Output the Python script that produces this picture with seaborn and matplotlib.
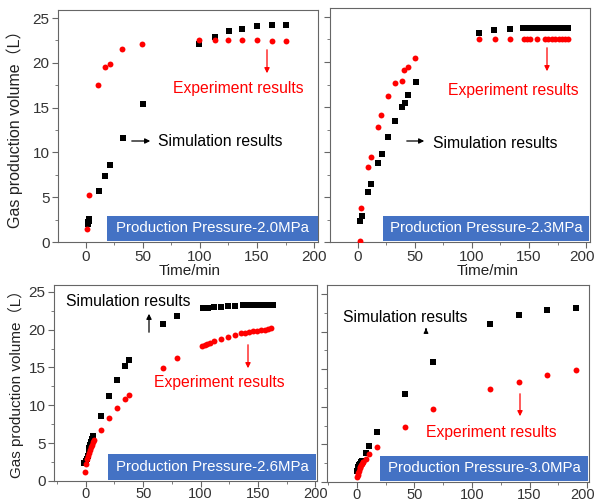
import numpy as np
import pandas as pd
import matplotlib
matplotlib.use("Agg")
import matplotlib.pyplot as plt
from matplotlib.patches import Rectangle, FancyArrowPatch
from matplotlib.ticker import MultipleLocator
from matplotlib.transforms import ScaledTranslation
import seaborn as sns

# ---------------- data ----------------
p1_sim_t = [1.5, 2.0, 2.5, 3.0, 11.3, 16.9, 20.9, 32.6, 50.0, 99.4, 113.4, 125.6, 137.2, 150.3, 162.8, 175.6]
p1_sim_v = [2.0, 2.2, 2.4, 2.6, 5.7, 7.4, 8.6, 11.6, 15.4, 22.05, 22.9, 23.5, 23.8, 24.1, 24.2, 24.25]
p1_exp_t = [1.2, 2.3, 11.0, 16.9, 20.9, 31.7, 49.4, 99.4, 112.8, 125.0, 137.2, 150.3, 162.8, 175.6]
p1_exp_v = [1.4, 5.3, 17.5, 19.5, 19.9, 21.5, 22.05, 22.6, 22.5, 22.6, 22.57, 22.5, 22.46, 22.4]

p2_sim_t = [1.5, 3.2, 9.1, 11.4, 17.6, 20.8, 26.7, 32.8, 39.0, 41.0, 44.3, 50.7,
            106.0, 119.6, 133.0, 145.0, 149.0, 153.0, 157.0,
            162.0, 164.5, 167.0, 169.5, 172.0, 174.5, 177.0, 179.5, 182.0, 184.0]
p2_sim_v = [2.35, 2.9, 5.6, 6.5, 8.8, 9.8, 11.7, 13.5, 15.05, 15.5, 16.3, 17.8,
            23.2, 23.6, 23.7, 23.8, 23.8, 23.8, 23.8,
            23.8, 23.8, 23.8, 23.8, 23.8, 23.8, 23.8, 23.8, 23.8, 23.8]
p2_exp_t = [1.5, 2.6, 8.8, 11.1, 17.3, 20.5, 26.7, 32.8, 38.7, 40.5, 44.0, 50.4,
            106.0, 120.0, 133.0, 145.6, 148.0, 150.5, 157.0,
            164.0, 167.0, 170.0, 173.0, 176.0, 179.0, 182.0, 184.0]
p2_exp_v = [0.1, 3.8, 8.3, 9.4, 12.8, 14.1, 16.2, 17.7, 17.9, 19.1, 19.5, 20.4,
            22.6, 22.6, 22.6, 22.6, 22.6, 22.6, 22.6,
            22.6, 22.6, 22.6, 22.6, 22.6, 22.6, 22.6, 22.6]

p3_sim_t = [-1.4, 0.0, 0.8, 1.6, 2.4, 3.2, 4.0, 4.8, 5.6, 6.4, 13.6, 20.3, 27.2, 34.5, 37.7,
            67.2, 79.4, 102.0, 106.4, 112.0, 117.4, 124.0, 130.0, 137.0, 142.0, 147.0,
            152.0, 157.0, 161.0, 163.0]
p3_sim_v = [2.4, 2.6, 2.9, 3.3, 3.8, 4.3, 4.8, 5.2, 5.6, 6.0, 8.6, 11.2, 13.4, 15.2, 15.96,
            20.8, 21.8, 22.8, 22.9, 23.0, 23.05, 23.1, 23.15, 23.2, 23.2, 23.2,
            23.2, 23.2, 23.2, 23.2]
p3_exp_t = [-0.9, 0.5, 1.2, 2.0, 2.8, 3.6, 4.4, 5.2, 6.0, 6.8, 13.0, 20.0, 27.2, 34.5, 37.7,
            67.2, 79.4, 101.4, 103.5, 105.5, 108.0, 111.6, 118.0, 123.8, 130.4,
            135.0, 138.5, 142.0, 145.5, 149.0, 152.5, 156.0, 159.0, 161.5]
p3_exp_v = [1.2, 2.3, 2.9, 3.3, 3.7, 4.1, 4.5, 4.8, 5.1, 5.4, 6.7, 8.3, 9.65, 10.9, 11.4,
            14.95, 16.3, 17.8, 17.95, 18.1, 18.3, 18.5, 18.7, 19.0, 19.3,
            19.5, 19.6, 19.7, 19.8, 19.85, 19.9, 20.0, 20.1, 20.2]

p4_sim_t = [0.0, 0.6, 1.2, 1.8, 2.5, 3.2, 4.0, 7.8, 10.7, 17.5, 42.2, 66.5, 115.9, 141.0, 165.0, 190.8]
p4_sim_v = [1.4, 1.7, 2.0, 2.2, 2.4, 2.6, 2.8, 3.9, 4.8, 6.6, 11.7, 16.0, 21.0, 22.2, 22.9, 23.2]
p4_exp_t = [0.3, 0.8, 1.3, 1.8, 2.4, 3.0, 3.6, 4.3, 5.0, 5.6, 7.5, 10.5, 17.3, 41.9, 66.2, 115.9, 140.8, 165.3, 190.2]
p4_exp_v = [0.6, 0.9, 1.2, 1.5, 1.8, 2.0, 2.2, 2.4, 2.6, 2.7, 3.0, 3.7, 4.7, 7.3, 9.65, 12.4, 13.35, 14.2, 14.9]

pressures = ["Production Pressure-2.0MPa", "Production Pressure-2.3MPa",
             "Production Pressure-2.6MPa", "Production Pressure-3.0MPa"]
x_label = "Time/min"
y_label = "Gas production volume（L）"
sim_label = "Simulation results"
exp_label = "Experiment results"

# ---------------- style ----------------
sns.set_theme(style="ticks")
plt.rcParams["font.family"] = ["Liberation Sans", "Noto Sans CJK SC", "DejaVu Sans"]
plt.rcParams["axes.edgecolor"] = "#666666"
plt.rcParams["axes.linewidth"] = 0.8
plt.rcParams["xtick.color"] = "#666666"
plt.rcParams["ytick.color"] = "#666666"
plt.rcParams["xtick.labelcolor"] = "#333333"
plt.rcParams["ytick.labelcolor"] = "#333333"

TICK_FONT = ["Liberation Sans Narrow", "Liberation Sans", "DejaVu Sans"]

W, H = 594, 504
fig = plt.figure(figsize=(W / 100, H / 100), dpi=100)


def fx(x):
    return x / W


def fy(y):
    return 1 - y / H


def add_ax(l, t, r, b):
    return fig.add_axes([fx(l), fy(b), (r - l) / W, (b - t) / H])


axes_px = [(58, 10, 318, 242), (330, 8, 590, 242), (54, 285, 317, 481), (327, 285, 589, 482)]
xlims = [(-24.5, 203.5), (-24.5, 203.5), (-27.7, 201.4), (-26.0, 201.7)]
ylims = [(0, 25.9), (0, 26.0), (0, 25.9), (0, 26.2)]
series = [(p1_sim_t, p1_sim_v, p1_exp_t, p1_exp_v),
          (p2_sim_t, p2_sim_v, p2_exp_t, p2_exp_v),
          (p3_sim_t, p3_sim_v, p3_exp_t, p3_exp_v),
          (p4_sim_t, p4_sim_v, p4_exp_t, p4_exp_v)]
boxes = [(107, 216, 318, 241), (383, 216, 589, 241), (108, 454, 316, 480), (380, 456, 588, 481)]

axs = []
for i, (pos, xl, yl, (st, sv, et, ev)) in enumerate(zip(axes_px, xlims, ylims, series)):
    ax = add_ax(*pos)
    axs.append(ax)
    sim = pd.DataFrame({"t": st, "v": sv})
    exp = pd.DataFrame({"t": et, "v": ev})
    sns.scatterplot(data=sim, x="t", y="v", ax=ax, marker="s", color="black",
                    s=16, linewidth=0, zorder=3)
    sns.scatterplot(data=exp, x="t", y="v", ax=ax, marker="o", color="#ff0000",
                    s=18, linewidth=0, zorder=3)
    ax.set_xlim(*xl)
    ax.set_ylim(*yl)
    ax.set_xlabel("")
    ax.set_ylabel("")
    ax.xaxis.set_major_locator(MultipleLocator(50))
    ax.xaxis.set_minor_locator(MultipleLocator(25))
    ax.yaxis.set_major_locator(MultipleLocator(5))
    ax.yaxis.set_minor_locator(MultipleLocator(2.5))
    ax.tick_params(axis="both", which="major", direction="out", length=4, width=0.8,
                   labelsize=11, pad=2)
    ax.tick_params(axis="both", which="minor", direction="out", length=2.5, width=0.6)
    ax.tick_params(top=False, right=False, which="both")
    if i >= 2:
        ax.tick_params(axis="x", which="major", pad=0, labelsize=10.5)
    if i in (1, 3):
        ax.tick_params(axis="y", labelleft=False)
    for lab in ax.get_xticklabels() + ax.get_yticklabels():
        lab.set_fontfamily(TICK_FONT)
    for sp in ax.spines.values():
        sp.set_visible(True)
    # blue pressure box
    l, t, r, b = boxes[i]
    fig.add_artist(Rectangle((fx(l), fy(b)), (r - l) / W, (b - t) / H,
                             transform=fig.transFigure, facecolor="#4472c4",
                             edgecolor="none", zorder=5))
    fig.text(fx((l + r) / 2), fy((t + b) / 2), pressures[i], color="white",
             fontsize=10.8, ha="center", va="center", zorder=6)

# axis labels
fig.text(fx(190), fy(271), x_label, fontsize=11, ha="center", va="center", color="#222222")
fig.text(fx(488), fy(271), x_label, fontsize=11, ha="center", va="center", color="#222222")
fig.text(fx(15), fy(125), y_label, fontsize=11.5, rotation=90, ha="center", va="center", color="#222222")
fig.text(fx(16), fy(380), y_label, fontsize=11, rotation=90, ha="center", va="center", color="#222222")


def arrow(x0, y0, x1, y1, color, hl=3, hw=1.5):
    fig.add_artist(FancyArrowPatch(
        (fx(x0), fy(y0)), (fx(x1), fy(y1)), transform=fig.transFigure,
        arrowstyle=f"-|>,head_length={hl},head_width={hw}", color=color, lw=0.9,
        mutation_scale=1, zorder=6))


def label(x, y, s, color):
    fig.text(fx(x), fy(y), s, color=color, fontsize=11.3, ha="left", va="center", zorder=6)


# panel 1
arrow(129, 141, 153, 141, "black")
label(158, 141, sim_label, "black")
arrow(267, 47, 267, 76, "#ff0000")
label(173, 88, exp_label, "#ff0000")
# panel 2
arrow(404, 141, 427, 141, "black")
label(433, 143, sim_label, "black")
arrow(547, 45, 547, 74, "#ff0000")
label(448, 90, exp_label, "#ff0000")
# panel 3
label(66, 301, sim_label, "black")
arrow(149, 335, 149, 311, "black")
arrow(248, 342, 248, 371, "#ff0000")
label(154, 383, exp_label, "#ff0000")
# panel 4
label(343, 317, sim_label, "black")
arrow(426, 332, 426, 328.5, "black", hl=2.5, hw=1.3)
arrow(520, 391, 520, 419, "#ff0000")
label(426, 432, exp_label, "#ff0000")

# nudge the right-most "200" labels of the right column so they stay inside the figure
fig.canvas.draw()
for ax in (axs[1], axs[3]):
    for tick in ax.xaxis.get_major_ticks():
        if abs(tick.get_loc() - 200) < 1e-6:
            lab = tick.label1
            lab.set_transform(lab.get_transform() + ScaledTranslation(-4 / 100, 0, fig.dpi_scale_trans))

fig.savefig("out.png", dpi=100)
